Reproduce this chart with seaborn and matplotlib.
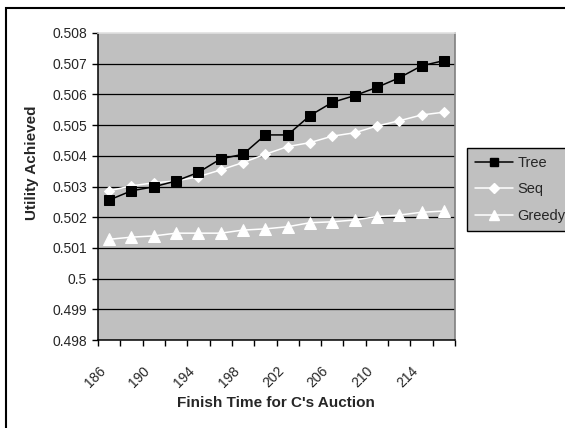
import matplotlib
matplotlib.use("Agg")
import matplotlib.pyplot as plt
import matplotlib.transforms as mtransforms
from matplotlib.lines import Line2D
from matplotlib.patches import Rectangle
import seaborn as sns
import pandas as pd

# ---- data ----
finish_times = [186, 188, 190, 192, 194, 196, 198, 200, 202, 204, 206, 208, 210, 212, 214, 216]
tree = [0.50256, 0.50286, 0.50299, 0.50318, 0.50346, 0.50390, 0.50405, 0.50468,
        0.50468, 0.50531, 0.50574, 0.50596, 0.50623, 0.50654, 0.50693, 0.50710]
seq = [0.50286, 0.50302, 0.50312, 0.50318, 0.50332, 0.50354, 0.50378, 0.50405,
       0.50430, 0.50443, 0.50464, 0.50475, 0.50497, 0.50514, 0.50533, 0.50542]
greedy = [0.50128, 0.50135, 0.50139, 0.50148, 0.50148, 0.50148, 0.50158, 0.50162,
          0.50169, 0.50182, 0.50185, 0.50191, 0.50202, 0.50207, 0.50216, 0.50220]
x_tick_values = [186, 190, 194, 198, 202, 206, 210, 214]
x_tick_labels = ["186", "190", "194", "198", "202", "206", "210", "214"]
y_tick_values = [0.498, 0.499, 0.500, 0.501, 0.502, 0.503, 0.504, 0.505, 0.506, 0.507, 0.508]
y_tick_labels = ["0.498", "0.499", "0.5", "0.501", "0.502", "0.503", "0.504",
                 "0.505", "0.506", "0.507", "0.508"]
series_names = ["Tree", "Seq", "Greedy"]

sns.set_theme(style="white")
plt.rcParams["font.family"] = ["Liberation Sans", "DejaVu Sans"]

W, H = 565, 428
fig = plt.figure(figsize=(W / 100, H / 100), dpi=100)
ax = fig.add_axes([98 / W, 1 - 340 / H, (455 - 98) / W, (340 - 33) / H])
ax.set_facecolor("#C0C0C0")

df = pd.DataFrame({"t": finish_times * 3,
                   "u": tree + seq + greedy,
                   "s": [series_names[0]] * len(tree) + [series_names[1]] * len(seq)
                        + [series_names[2]] * len(greedy)})

styles = {
    "Tree": dict(color="black", marker="s", markersize=7, mfc="black", mec="black"),
    "Seq": dict(color="white", marker="D", markersize=5.5, mfc="white", mec="white"),
    "Greedy": dict(color="white", marker="^", markersize=8, mfc="white", mec="white"),
}
for name in ["Greedy", "Seq", "Tree"]:
    st = styles[name]
    sns.lineplot(data=df[df["s"] == name], x="t", y="u", ax=ax, color=st["color"],
                 marker=st["marker"], markersize=st["markersize"],
                 markerfacecolor=st["mfc"], markeredgecolor=st["mec"],
                 linewidth=1.1, legend=False, zorder=3)

ax.set_xlim(185, 217)
ax.set_ylim(0.498, 0.508)
ax.set_yticks(y_tick_values)
ax.set_yticklabels(y_tick_labels, fontsize=10)
ax.set_xticks(x_tick_values)
ax.set_xticklabels(x_tick_labels, fontsize=10, rotation=45, ha="right", va="top")
ax.set_xticks([185 + 2 * i for i in range(17)], minor=True)
ax.tick_params(axis="x", which="major", length=0, pad=17)
ax.tick_params(axis="x", which="minor", length=4.5, width=1, color="black", direction="out", bottom=True)
ax.tick_params(axis="y", which="major", length=4, width=1, color="black", direction="out", left=True, pad=4)
offset = mtransforms.ScaledTranslation(-1 / 100, 0, fig.dpi_scale_trans)
for lbl in ax.get_xticklabels():
    lbl.set_transform(lbl.get_transform() + offset)

ax.grid(False)
for y in y_tick_values[1:-1]:
    ax.axhline(y, color="black", linewidth=0.9, zorder=1)

ax.set_xlabel("")
ax.set_ylabel("")
for side in ["left", "bottom"]:
    ax.spines[side].set_color("black")
    ax.spines[side].set_linewidth(1.1)
ax.spines["top"].set_color("#E0E0E0")
ax.spines["right"].set_color("#808080")
ax.spines["top"].set_linewidth(1.2)
ax.spines["right"].set_linewidth(1.2)

fig.text(276 / W, 1 - 403 / H, "Finish Time for C's Auction", ha="center", va="center",
         fontsize=11, fontweight="bold")
fig.text(32 / W, 1 - 163 / H, "Utility Achieved", ha="center", va="center",
         rotation=90, fontsize=11, fontweight="bold")

handles = [Line2D([], [], color=styles[n]["color"], marker=styles[n]["marker"],
                  markersize=styles[n]["markersize"] * 0.85, markerfacecolor=styles[n]["mfc"],
                  markeredgecolor=styles[n]["mec"], linewidth=1.1) for n in series_names]
leg = fig.legend(handles, series_names, loc="upper left",
                 bbox_to_anchor=(467 / W, 1 - 148 / H), frameon=True, fancybox=False,
                 fontsize=10.5, handlelength=2.6, handletextpad=0.3, borderpad=0.55,
                 labelspacing=0.85, borderaxespad=0, facecolor="#C0C0C0", edgecolor="black",
                 framealpha=1)
leg.get_frame().set_linewidth(1.0)

# outer chart frame (cropped at right and bottom)
fig.patches.append(Rectangle((6 / W, -0.1), 1.2, (1 - 8 / H) + 0.1, transform=fig.transFigure,
                             fill=False, edgecolor="black", linewidth=1.5, zorder=0))

fig.savefig("out.png", dpi=100)
